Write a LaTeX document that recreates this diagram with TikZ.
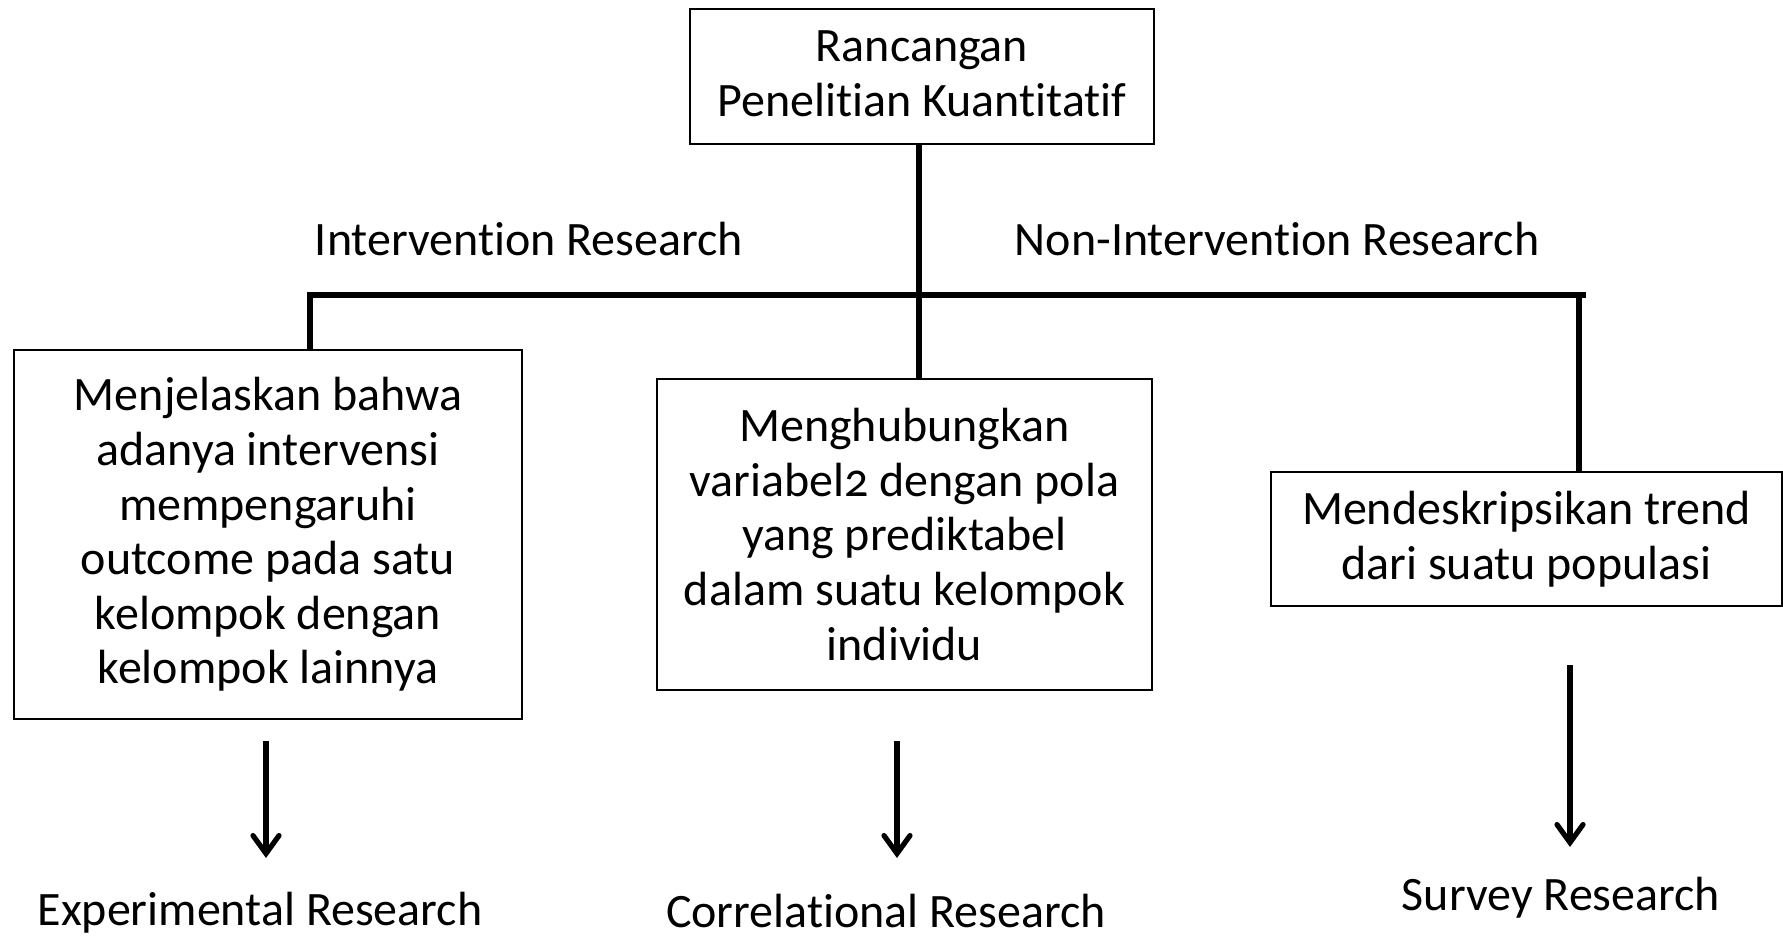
\documentclass[tikz,border=0pt]{standalone}
\usepackage{fontspec}
\setmainfont{Carlito}[Numbers=OldStyle,Ligatures=NoCommon]
\usetikzlibrary{arrows.meta}
\begin{document}
\begin{tikzpicture}[x=0.5pt,y=-0.5pt,
  box/.style={draw,line width=1pt,align=center,inner sep=0pt,font=\fontsize{24}{27.3}\selectfont},
  lbl/.style={inner sep=0pt,font=\fontsize{24}{27.3}\selectfont},
  conn/.style={line width=2.6pt},
  arr/.style={line width=2.6pt,-{Straight Barb[length=9pt,width=13pt,line cap=round]}}]
\useasboundingbox (0,0) rectangle (1783,937);
\node[box,minimum width=232pt,minimum height=67.5pt,text depth=3pt] (top) at (922,76.5) {Rancangan\\Penelitian Kuantitatif};
\node[box,minimum width=254pt,minimum height=184.5pt] (left) at (268,534.5) {Menjelaskan bahwa\\adanya intervensi\\mempengaruhi\\outcome pada satu\\kelompok dengan\\kelompok lainnya};
\node[box,minimum width=247.5pt,minimum height=155.5pt] (mid) at (904.5,534.5) {Menghubungkan\\variabel2 dengan pola\\yang prediktabel\\dalam suatu kelompok\\individu};
\node[box,minimum width=255.5pt,minimum height=67pt] (right) at (1526.5,539) {Mendeskripsikan trend\\dari suatu populasi};
\node[lbl] (int) at (529,239) {Intervention Research};
\node[lbl] (nonint) at (1277,239) {Non-Intervention Research};
\node[lbl] (exp) at (260,913) {Experimental Research};
\node[lbl] (cor) at (886,911) {Correlational Research};
\node[lbl] (sur) at (1561,898) {Survey Research};
\coordinate (j) at (919,295);
\coordinate (bl) at (310,295);
\coordinate (br) at (1586,295);
\coordinate (rd) at (1579,295);
\draw[conn] (top.south -| j) -- (mid.north -| j);
\draw[conn] (left.north -| bl) -- (bl) -- (br);
\draw[conn] (rd) -- (right.north -| rd);
\coordinate (a1s) at (266,741);
\coordinate (a1e) at (266,858);
\coordinate (a2s) at (897,741);
\coordinate (a2e) at (897,858);
\coordinate (a3s) at (1570,665);
\coordinate (a3e) at (1570,847);
\draw[arr] (a1s) -- (a1e);
\draw[arr] (a2s) -- (a2e);
\draw[arr] (a3s) -- (a3e);
\end{tikzpicture}
\end{document}
